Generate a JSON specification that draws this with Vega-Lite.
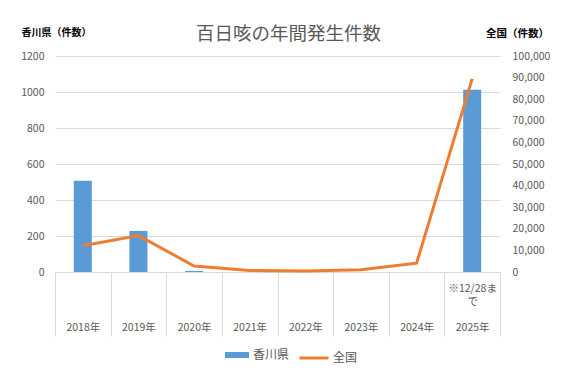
{
  "$schema": "https://vega.github.io/schema/vega-lite/v6.json",
  "width": 445,
  "height": 216,
  "autosize": {"type": "none"},
  "padding": {"left": 55, "top": 56, "right": 70, "bottom": 109},
  "background": "white",
  "title": {
    "text": "百日咳の年間発生件数",
    "fontSize": 18.5,
    "fontWeight": "normal",
    "color": "#595959",
    "anchor": "middle",
    "frame": "group",
    "offset": -16,
    "dx": 11
  },
  "data": {
    "values": [
      {"year": "2018年", "series": "香川県", "value": 507},
      {"year": "2019年", "series": "香川県", "value": 228},
      {"year": "2020年", "series": "香川県", "value": 6},
      {"year": "2021年", "series": "香川県", "value": 0},
      {"year": "2022年", "series": "香川県", "value": 0},
      {"year": "2023年", "series": "香川県", "value": 0},
      {"year": "2024年", "series": "香川県", "value": 0},
      {"year": "2025年", "series": "香川県", "value": 1012},
      {"year": "2018年", "series": "全国", "value": 12117},
      {"year": "2019年", "series": "全国", "value": 16850},
      {"year": "2020年", "series": "全国", "value": 2794},
      {"year": "2021年", "series": "全国", "value": 705},
      {"year": "2022年", "series": "全国", "value": 499},
      {"year": "2023年", "series": "全国", "value": 1009},
      {"year": "2024年", "series": "全国", "value": 4054},
      {"year": "2025年", "series": "全国", "value": 89400}
    ]
  },
  "encoding": {
    "x": {
      "field": "year",
      "type": "nominal",
      "sort": null,
      "scale": {"paddingInner": 0, "paddingOuter": 0},
      "axis": {
        "title": null,
        "labelAngle": 0,
        "domainColor": "#d9d9d9",
        "tickColor": "#d9d9d9",
        "tickSize": 64,
        "tickBand": "extent",
        "labelPadding": -53,
        "labelFontSize": 10.5,
        "labelColor": "#595959",
        "labelLineHeight": 13.3,
        "labelOverlap": false,
        "labelExpr": "datum.value === '2025年' ? ['※12/28ま', 'で', '\u200b', '2025年'] : ['\u200b', '\u200b', '\u200b', datum.value]"
      }
    }
  },
  "layer": [
    {
      "transform": [{"filter": "datum.series === '香川県'"}],
      "mark": {"type": "bar", "width": 18},
      "encoding": {
        "y": {
          "field": "value",
          "type": "quantitative",
          "scale": {"domain": [0, 1200]},
          "axis": {
            "values": [0, 200, 400, 600, 800, 1000, 1200],
            "format": "d",
            "title": "香川県（件数）",
            "titleAngle": 0,
            "titleX": 1,
            "titleY": -24,
            "titleAlign": "center",
            "titleBaseline": "middle",
            "titleFontWeight": "bold",
            "titleFontSize": 10,
            "titleColor": "#000000",
            "domain": false,
            "ticks": false,
            "labelPadding": 11,
            "labelFontSize": 10.5,
            "labelColor": "#595959",
            "grid": true,
            "gridColor": "#d9d9d9"
          }
        },
        "fill": {
          "field": "series",
          "type": "nominal",
          "scale": {"domain": ["香川県"], "range": ["#5b9bd5"]},
          "legend": {
            "title": null,
            "orient": "none",
            "legendX": 169,
            "legendY": 286,
            "direction": "horizontal",
            "symbolType": "M-1,-0.25H1V0.25H-1Z",
            "symbolSize": 576,
            "labelOffset": 3,
            "labelFontSize": 12,
            "labelColor": "#595959"
          }
        }
      }
    },
    {
      "transform": [{"filter": "datum.series === '全国'"}],
      "mark": {"type": "line", "strokeWidth": 3},
      "encoding": {
        "y": {
          "field": "value",
          "type": "quantitative",
          "scale": {"domain": [0, 100000]},
          "axis": {
            "orient": "right",
            "values": [0, 10000, 20000, 30000, 40000, 50000, 60000, 70000, 80000, 90000, 100000],
            "format": ",d",
            "title": "全国（件数）",
            "titleAngle": 0,
            "titleX": 17,
            "titleY": -23,
            "titleAlign": "center",
            "titleBaseline": "middle",
            "titleFontWeight": "bold",
            "titleFontSize": 10.5,
            "titleColor": "#000000",
            "domain": false,
            "ticks": false,
            "grid": false,
            "labelPadding": 12,
            "labelFontSize": 10.5,
            "labelColor": "#595959"
          }
        },
        "stroke": {
          "field": "series",
          "type": "nominal",
          "scale": {"domain": ["全国"], "range": ["#ed7d31"]},
          "legend": {
            "title": null,
            "orient": "none",
            "legendX": 243,
            "legendY": 286,
            "direction": "horizontal",
            "symbolType": "stroke",
            "symbolSize": 841,
            "symbolStrokeWidth": 3,
            "labelOffset": 3,
            "labelFontSize": 12,
            "labelColor": "#595959"
          }
        }
      }
    }
  ],
  "resolve": {"scale": {"y": "independent"}},
  "config": {
    "font": "Noto Sans CJK JP",
    "view": {"stroke": null}
  }
}
